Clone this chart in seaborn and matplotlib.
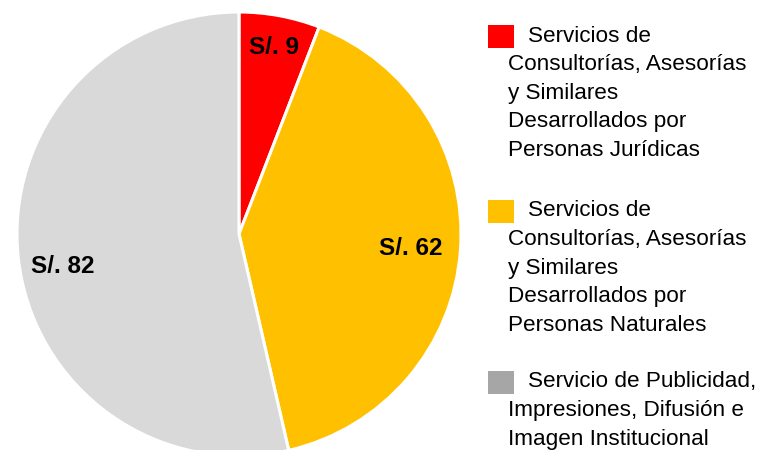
import matplotlib
matplotlib.use("Agg")
import matplotlib.pyplot as plt
import seaborn as sns
import numpy as np
from matplotlib.patches import Rectangle

sns.set_theme(style="white")
plt.rcParams['font.family'] = ['Liberation Sans', 'DejaVu Sans']

# Data
categories = [
    "Servicios de\nConsultorías, Asesorías\ny Similares\nDesarrollados por\nPersonas Jurídicas",
    "Servicios de\nConsultorías, Asesorías\ny Similares\nDesarrollados por\nPersonas Naturales",
    "Servicio de Publicidad,\nImpresiones, Difusión e\nImagen Institucional",
]
values = [9, 62, 82]
colors = ["#FF0000", "#FFC000", "#D9D9D9"]
legend_colors = ["#FF0000", "#FFC000", "#A6A6A6"]
label_dist = [0.855, 0.777, 0.80]
label_nudge_y = [0.0, -0.01, -0.055]

W, H = 772, 450
fig = plt.figure(figsize=(W / 100, H / 100), dpi=100)
fig.patch.set_facecolor("white")

cx, cy, r = 239, 234, 222
ax = fig.add_axes([(cx - r) / W, 1 - (cy + r) / H, 2 * r / W, 2 * r / H])
total = sum(values)
wedges, texts, autotexts = ax.pie(
    values, colors=colors, startangle=90, counterclock=False,
    autopct=lambda p: f"S/. {round(p * total / 100)}",
    pctdistance=0.8,
    wedgeprops=dict(edgecolor="white", linewidth=2.2),
    textprops=dict(fontsize=17.5, fontweight="bold", color="black"),
)
for w, t, d, ny in zip(wedges, autotexts, label_dist, label_nudge_y):
    ang = np.deg2rad((w.theta1 + w.theta2) / 2)
    t.set_position((d * np.cos(ang), d * np.sin(ang) + ny))
ax.set_xlim(-1, 1)
ax.set_ylim(-1, 1)
ax.axis("off")

# Legend (manual, wrapped like the reference)
first_centers = [36, 211, 382]
line_step = 28.6
for lab, col, yc in zip(categories, legend_colors, first_centers):
    fig.patches.append(Rectangle((488 / W, 1 - (yc + 11.5) / H), 26 / W, 23 / H,
                                 transform=fig.transFigure, facecolor=col,
                                 edgecolor="none"))
    for i, line in enumerate(lab.split("\n")):
        x = 528 if i == 0 else 508
        fig.text(x / W, 1 - (yc + i * line_step) / H, line, fontsize=16.2,
                 va="center", ha="left", color="black")

fig.savefig("out.png", dpi=100, facecolor="white")
